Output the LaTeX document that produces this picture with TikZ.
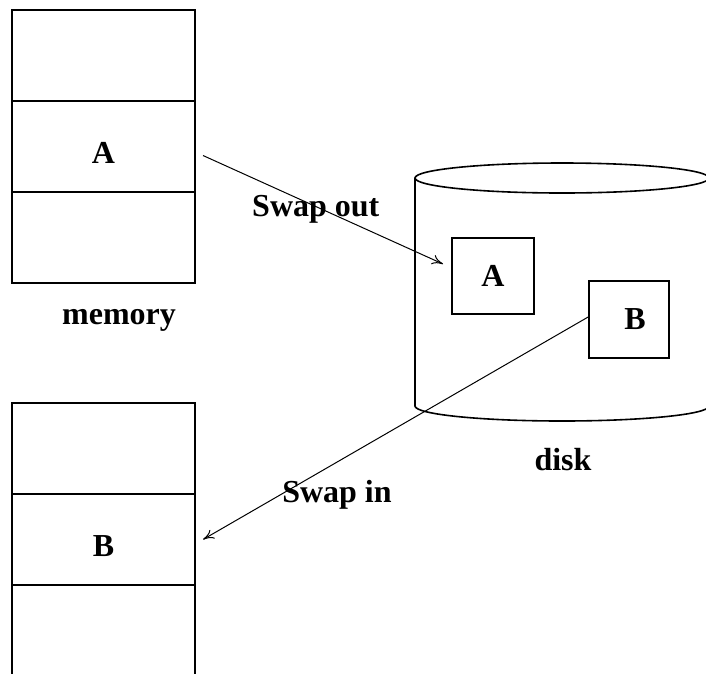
\documentclass[tikz,border=0pt]{standalone}
\usepackage{fontspec}
\setmainfont{Liberation Serif}
\usetikzlibrary{arrows.meta}

\begin{document}
\begin{tikzpicture}[
    x=1pt, y=-1pt,
    cell/.style={draw, line width=1.6pt, minimum width=183pt, minimum height=91pt,
        inner sep=0pt, outer sep=0pt, text height=34pt, text depth=0pt,
        font=\fontsize{32}{38}\selectfont\bfseries},
    page/.style={draw, line width=1.6pt, inner sep=0pt, outer sep=0pt,
        font=\fontsize{32}{38}\selectfont\bfseries},
    lbl/.style={font=\fontsize{32}{38}\selectfont\bfseries},
    disk/.style={line width=1.6pt},
    swap/.style={line width=1pt, -{To[length=11pt,width=10pt]}}
    ]
    \clip (0,0) rectangle (706,673);

    % memory before
    \node[cell] (memtop) at (103.5,55.5) {};
    \node[cell] (memA) at (103.5,146.5) {A};
    \node[cell] (memlow) at (103.5,237.5) {};
    \node[lbl] (memory) at (119,320) {memory};

    % memory after
    \node[cell] (memhigh) at (103.5,448.5) {};
    \node[cell] (memB) at (103.5,539.5) {B};
    \node[cell] (membot) at (103.5,630.5) {};

    % disk
    \draw[disk] (562,178) ellipse[x radius=147, y radius=15];
    \draw[disk] (415,178) -- (415,406)
        arc[start angle=180, end angle=0, x radius=147, y radius=15];
    \node[lbl] (disklbl) at (563,460) {disk};
    \node[page, minimum width=82pt, minimum height=76pt] (diskA) at (493,276) {A};
    \node[page, minimum width=80pt, minimum height=77pt] (diskB) at (629,319.5) {\hspace{12pt}B};

    % swapping
    \draw[swap] ([shift={(8,9)}]memA.east) -- node[lbl, pos=0.47, yshift=-3] (swapout) {Swap out}
        ([shift={(-9,-12)}]diskA.west);
    \draw[swap] ([yshift=3]diskB.west) -- ([xshift=8]memB.east);
    \node[lbl] (swapin) at (337,495) {Swap in};

\end{tikzpicture}
\end{document}
